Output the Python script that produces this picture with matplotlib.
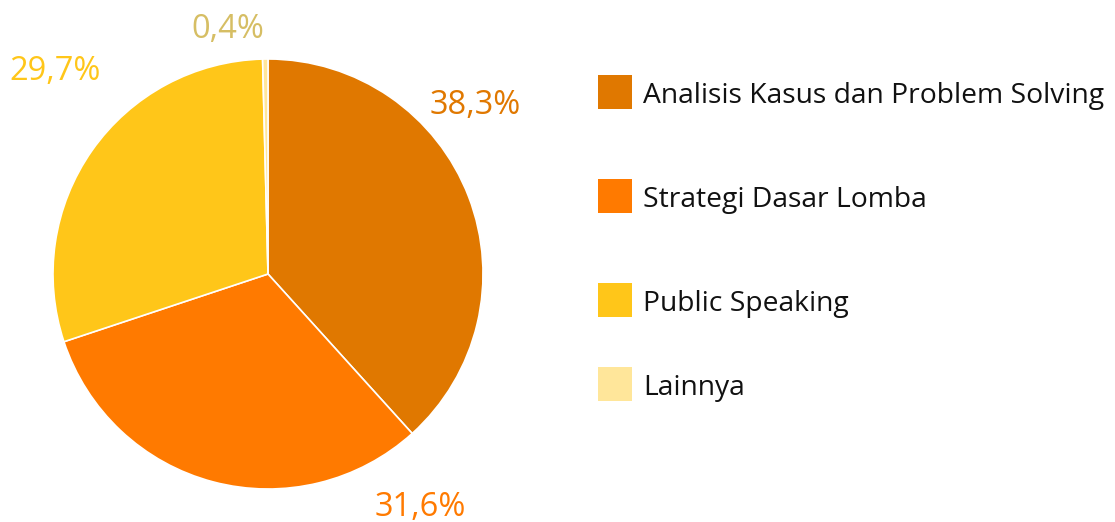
import matplotlib
matplotlib.use('Agg')
import matplotlib.pyplot as plt
from matplotlib.patches import Rectangle

plt.rcParams['font.family'] = ['Open Sans', 'DejaVu Sans']

categories = ["Analisis Kasus dan Problem Solving", "Strategi Dasar Lomba",
              "Public Speaking", "Lainnya"]
shares = [38.3, 31.6, 29.7, 0.4]
colors = ["#E07800", "#FF7A00", "#FFC619", "#FFE69A"]
label_colors = ["#E07800", "#FF7A00", "#FFC619", "#D6BE64"]
# label anchor spots (pixels, top-left origin)
label_pos = [(475, 101), (420, 503), (55, 67), (228, 25)]
legend_y = [92, 196, 300, 384]

W, H = 1115, 522
fig = plt.figure(figsize=(W / 100, H / 100), dpi=100)
ax = fig.add_axes([0, 0, 1, 1])
ax.set_xlim(0, W)
ax.set_ylim(0, H)
ax.set_aspect('equal')
ax.axis('off')

ax.pie(shares, colors=colors, startangle=90, counterclock=False,
       center=(268, H - 274), radius=215,
       wedgeprops=dict(edgecolor='white', linewidth=1.2))
ax.set_xlim(0, W)
ax.set_ylim(0, H)

for (x, y), v, c in zip(label_pos, shares, label_colors):
    ax.text(x, H - y, f"{v:.1f}%".replace('.', ','), color=c, fontsize=23.5,
            ha='center', va='center_baseline')

for name, c, y in zip(categories, colors, legend_y):
    ax.add_patch(Rectangle((598, H - y - 17), 34, 34, facecolor=c, edgecolor='none'))
    ax.text(643, H - y, name, fontsize=20.3, color='#111111', ha='left',
            va='center_baseline')

fig.savefig('out.png', dpi=100)
